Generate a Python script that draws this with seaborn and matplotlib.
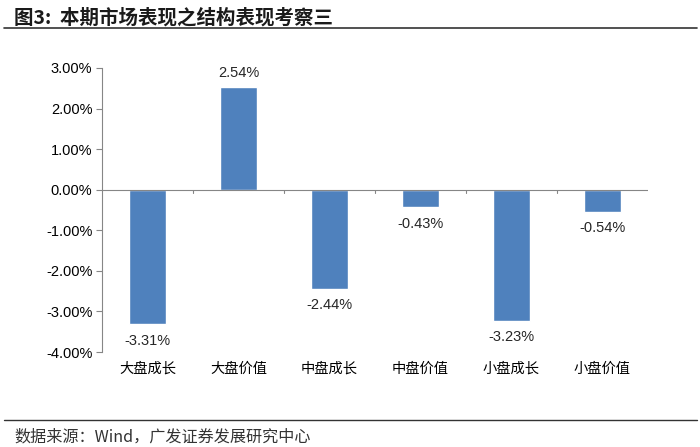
import matplotlib
matplotlib.use("Agg")
import matplotlib.pyplot as plt
import seaborn as sns
import pandas as pd
from matplotlib.lines import Line2D

categories = ["大盘成长", "大盘价值", "中盘成长", "中盘价值", "小盘成长", "小盘价值"]
values = [-3.31, 2.54, -2.44, -0.43, -3.23, -0.54]
yticks = [-4, -3, -2, -1, 0, 1, 2, 3]
title = "图3:  本期市场表现之结构表现考察三"
source = "数据来源：Wind，广发证券发展研究中心"

sns.set_theme(style="white")
plt.rcParams['font.family'] = ['Liberation Sans', 'Noto Sans CJK SC', 'DejaVu Sans']
cjk = ['Noto Sans CJK SC', 'DejaVu Sans']

df = pd.DataFrame({"cat": categories, "val": values})

fig = plt.figure(figsize=(7, 4.47), dpi=100)
ax = fig.add_axes([0.1457, 0.2125, 0.78, 0.6355])
sns.barplot(data=df, x="cat", y="val", color="#4F81BD", saturation=1, width=0.4, ax=ax)

ax.set_ylim(-4, 3)
ax.set_xlim(-0.5, len(categories) - 0.5)
ax.set_yticks(yticks)
ax.set_yticklabels([f"{v:.2f}%" for v in yticks], fontsize=10.5, color="#000000")
ax.set_xlabel("")
ax.set_ylabel("")
ax.set_xticks([])

for s in ["top", "right", "bottom"]:
    ax.spines[s].set_visible(False)
ax.spines["left"].set_color("#868686")
ax.spines["left"].set_linewidth(0.8)
ax.tick_params(axis="y", which="both", left=True, length=4, width=0.8, color="#868686", pad=3)
ax.axhline(0, color="#868686", lw=0.8, zorder=3)
for i in range(len(categories) - 1):
    ax.plot([i + 0.5, i + 0.5], [0, -0.08], color="#868686", lw=0.8, clip_on=False, zorder=3)

for i, (c, v) in enumerate(zip(categories, values)):
    if v >= 0:
        ax.annotate(f"{v:.2f}%", (i, v), xytext=(0, 5), textcoords="offset points",
                    ha="center", va="bottom", fontsize=10.5)
    else:
        ax.annotate(f"{v:.2f}%", (i, v), xytext=(0, -7), textcoords="offset points",
                    ha="center", va="top", fontsize=10.5)
    ax.annotate(c, (i, -4.0), xytext=(0, -7), textcoords="offset points",
                ha="center", va="top", fontsize=10.3, family=cjk, color="#000000",
                annotation_clip=False)

fig.text(0.02, 0.96, title, fontsize=14, fontweight="bold", family=cjk, va="center", ha="left",
         color="#1a1a1a")
fig.add_artist(Line2D([0.005, 0.995], [0.937, 0.937], color="#333333", lw=1.2,
                      transform=fig.transFigure))
fig.add_artist(Line2D([0.005, 0.995], [0.06, 0.06], color="#333333", lw=1.0,
                      transform=fig.transFigure))
fig.text(0.02, 0.022, source, fontsize=11.6, family=cjk, va="center", ha="left", color="#333333")

fig.savefig("out.png", dpi=100)
